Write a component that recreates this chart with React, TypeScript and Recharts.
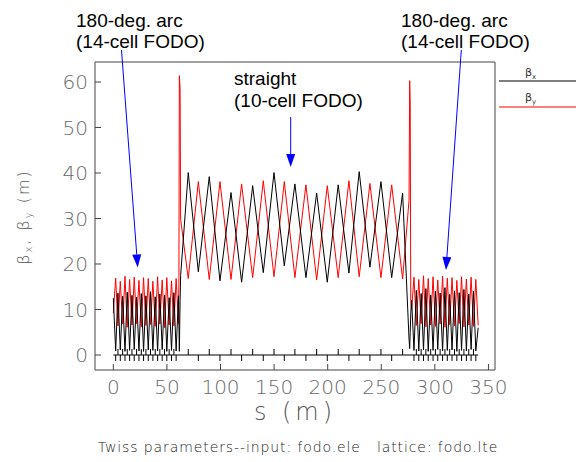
import React from "react";
import { ComposedChart, Line, Scatter, XAxis, YAxis, Legend } from "recharts";

// first 180-deg arc (14 FODO cells) — extrema
const arc1S = [0, 2.2, 4.3, 6.5, 8.7, 10.9, 13.0, 15.2, 17.4, 19.5, 21.7, 23.9, 26.1, 28.2, 30.4, 32.6, 34.7, 36.9, 39.1, 41.3, 43.4, 45.6, 47.8, 49.9, 52.1, 54.3, 56.5, 58.6, 60.8];
const arc1Bx = [12.5, 0.9, 13.6, 1.1, 12.9, 0.8, 13.8, 1.0, 13.1, 1.2, 12.7, 0.9, 13.5, 0.8, 13.0, 1.1, 13.9, 1.0, 12.8, 0.9, 13.4, 1.2, 13.2, 0.8, 12.6, 1.0, 13.7, 0.9, 13.0];
const arc1By = [9.2, 16.9, 6.4, 16.2, 6.8, 17.3, 6.1, 16.6, 6.6, 17.1, 6.9, 16.4, 6.2, 17.0, 6.5, 16.8, 6.7, 16.2, 6.3, 17.2, 6.8, 16.5, 6.0, 17.0, 6.6, 16.3, 6.4, 16.8, 6.9];

// straight section (10-cell FODO) with the matching spikes at both ends
const strS = [61.2, 61.6, 62.3, 62.8, 69.9, 79.3, 89.5, 99.5, 109.8, 119.7, 130.0, 139.9, 149.9, 159.5, 169.4, 179.7, 189.7, 199.6, 209.8, 219.8, 229.4, 239.4, 249.7, 259.7, 269.9, 275.9, 276.5, 277.0, 277.5];
const strBx = [7.0, 0.8, 12.0, 17.5, 40.1, 18.3, 39.2, 16.3, 35.7, 16.0, 37.2, 18.1, 40.1, 19.6, 37.6, 17.0, 35.6, 16.0, 37.4, 18.0, 40.3, 19.3, 38.1, 17.0, 35.6, 3.5, 1.4, 5.0, 9.0];
const strBy = [17.0, 61.4, 58.6, 29.8, 16.8, 38.1, 16.6, 38.1, 16.6, 37.6, 17.0, 38.3, 17.2, 38.1, 17.0, 37.4, 16.5, 37.2, 17.0, 38.3, 17.2, 37.7, 17.0, 37.4, 16.7, 34.0, 60.3, 55.0, 12.0];

// second 180-deg arc
const arc2S = [278.3, 280.5, 282.7, 285.0, 287.2, 289.4, 291.6, 293.8, 296.1, 298.3, 300.5, 302.7, 304.9, 307.2, 309.4, 311.6, 313.8, 316.0, 318.3, 320.5, 322.7, 324.9, 327.1, 329.4, 331.6, 333.8, 336.0, 338.2, 340.4];
const arc2Bx = [12.0, 1.0, 14.2, 0.9, 13.5, 1.1, 14.6, 0.8, 13.2, 1.0, 14.0, 1.2, 13.6, 0.9, 14.8, 1.0, 13.3, 1.1, 14.1, 0.8, 13.7, 1.0, 14.4, 0.9, 13.4, 1.2, 14.0, 0.9, 6.0];
const arc2By = [10.0, 17.1, 6.5, 16.6, 6.9, 17.4, 6.2, 16.8, 6.6, 17.2, 6.3, 16.5, 6.8, 17.3, 6.1, 16.9, 6.7, 17.0, 6.4, 16.4, 6.9, 17.2, 6.2, 16.7, 6.6, 17.1, 6.3, 16.6, 6.5];

const xTicks = [0, 50, 100, 150, 200, 250, 300, 350];
const yTicks = [0, 10, 20, 30, 40, 50, 60];

type Pt = { s: number; v: number };
const join = (segs: [number[], number[]][]): Pt[] =>
  segs.flatMap(([ss, vv]) => ss.map((s, i) => ({ s, v: vv[i] })));

const bxData = join([[arc1S, arc1Bx], [strS, strBx], [arc2S, arc2Bx]]);
const byData = join([[arc1S, arc1By], [strS, strBy], [arc2S, arc2By]]);

// lattice profile: a quad at every beta extremum, QF up / QD down
const qS = [...arc1S.slice(1, -1), ...strS.slice(4, 25), ...arc2S.slice(1, -1)];
const qBx = [...arc1Bx.slice(1, -1), ...strBx.slice(4, 25), ...arc2Bx.slice(1, -1)];
const qBy = [...arc1By.slice(1, -1), ...strBy.slice(4, 25), ...arc2By.slice(1, -1)];
const quads = qS.map((s, i) => ({ s, v: 0, up: qBx[i] > qBy[i] }));
const baseline = [
  { s: arc1S[0], v: 0 },
  { s: arc2S[arc2S.length - 1], v: 0 },
];

const axisColor = "#444";
const tickFont = { fontFamily: "DejaVu Sans", fontSize: 20, fontWeight: 200, fill: "#6a6a6a" };

const QuadMark = (props: any) => {
  const { cx, cy, payload } = props;
  if (cx == null || cy == null) return null;
  return <line x1={cx} x2={cx} y1={cy} y2={payload.up ? cy - 6 : cy + 6} stroke="#000" strokeWidth={1} />;
};

const LegendBox = () => (
  <svg width={77} height={55} style={{ display: "block" }}>
    <text x={26} y={16} fontFamily="DejaVu Sans" fontSize={11} fill="#333">
      β<tspan dy={3} fontSize={7}>x</tspan>
    </text>
    <line x1={0} x2={77} y1={21} y2={21} stroke="#000" />
    <text x={26} y={41} fontFamily="DejaVu Sans" fontSize={11} fill="#333">
      β<tspan dy={3} fontSize={7}>y</tspan>
    </text>
    <line x1={0} x2={77} y1={47} y2={47} stroke="#ff0000" />
  </svg>
);

const Arrow = ({ x1, y1, x2, y2 }: { x1: number; y1: number; x2: number; y2: number }) => {
  const dx = x2 - x1;
  const dy = y2 - y1;
  const len = Math.hypot(dx, dy);
  const ux = dx / len;
  const uy = dy / len;
  const bx = x2 - ux * 13;
  const by = y2 - uy * 13;
  const pts = `${x2},${y2} ${bx - uy * 4.5},${by + ux * 4.5} ${bx + uy * 4.5},${by - ux * 4.5}`;
  return (
    <g>
      <line x1={x1} y1={y1} x2={bx} y2={by} stroke="#0000ff" strokeWidth={1} />
      <polygon points={pts} fill="#0000ff" />
    </g>
  );
};

const note = { fontFamily: "Liberation Sans", fontSize: 19, fill: "#000" };

export default function App() {
  return (
    <div style={{ position: "absolute", left: 0, top: 0, width: 576, height: 462, background: "#fff" }}>
      <ComposedChart width={576} height={462} margin={{ top: 52, right: 71, bottom: 62, left: 35 }}>
        <XAxis
          xAxisId="b"
          type="number"
          dataKey="s"
          domain={[-17.1, 356.1]}
          allowDataOverflow
          ticks={xTicks}
          interval={0}
          height={30}
          tickSize={-6}
          tickMargin={16}
          stroke={axisColor}
          tick={tickFont}
        />
        <XAxis
          xAxisId="t"
          orientation="top"
          type="number"
          dataKey="s"
          domain={[-17.1, 356.1]}
          allowDataOverflow
          ticks={xTicks}
          interval={0}
          height={10}
          tickSize={-6}
          tick={false}
          stroke={axisColor}
        />
        <YAxis
          yAxisId="l"
          type="number"
          dataKey="v"
          domain={[-3.3, 64.4]}
          allowDataOverflow
          ticks={yTicks}
          interval={0}
          width={60}
          tickSize={-6}
          tickMargin={13}
          stroke={axisColor}
          tick={tickFont}
        />
        <YAxis
          yAxisId="r"
          orientation="right"
          type="number"
          dataKey="v"
          domain={[-3.3, 64.4]}
          allowDataOverflow
          ticks={yTicks}
          interval={0}
          width={10}
          tickSize={-6}
          tick={false}
          stroke={axisColor}
        />
        <Line
          xAxisId="t"
          yAxisId="r"
          data={baseline}
          dataKey="v"
          stroke="#000"
          strokeWidth={1}
          dot={false}
          legendType="none"
          isAnimationActive={false}
        />
        <Scatter
          xAxisId="b"
          yAxisId="l"
          data={quads}
          shape={QuadMark}
          legendType="none"
          isAnimationActive={false}
        />
        <Line
          xAxisId="b"
          yAxisId="l"
          data={byData}
          dataKey="v"
          name="βy"
          type="linear"
          stroke="#ff0000"
          strokeWidth={1}
          dot={false}
          isAnimationActive={false}
        />
        <Line
          xAxisId="b"
          yAxisId="l"
          data={bxData}
          dataKey="v"
          name="βx"
          type="linear"
          stroke="#000000"
          strokeWidth={1}
          dot={false}
          isAnimationActive={false}
        />
        <Legend
          layout="vertical"
          align="center"
          verticalAlign="middle"
          wrapperStyle={{ left: 499, top: 60, width: 77, height: 55 }}
          content={LegendBox}
        />
      </ComposedChart>
      <svg
        width={576}
        height={462}
        style={{ position: "absolute", left: 0, top: 0, pointerEvents: "none" }}
      >
        <text x={76} y={27} {...note}>180-deg. arc</text>
        <text x={76} y={48} {...note}>(14-cell FODO)</text>
        <text x={401} y={27} {...note}>180-deg. arc</text>
        <text x={401} y={48} {...note}>(14-cell FODO)</text>
        <text x={234} y={85} {...note}>straight</text>
        <text x={234} y={107} {...note}>(10-cell FODO)</text>
        <Arrow x1={121.5} y1={50} x2={137.7} y2={267.5} />
        <Arrow x1={290.7} y1={117} x2={290.7} y2={167} />
        <Arrow x1={461.3} y1={50} x2={446} y2={270} />
        <text
          transform="translate(29,217) rotate(-90)"
          textAnchor="middle"
          fontFamily="DejaVu Sans"
          fontWeight={200}
          fontSize={16}
          letterSpacing={2}
          fill="#555"
        >
          β<tspan dy={3} fontSize={10}>x</tspan>
          <tspan dy={-3}>, β</tspan>
          <tspan dy={3} fontSize={10}>y</tspan>
          <tspan dy={-3}> (m)</tspan>
        </text>
        <text
          x={295}
          y={420}
          textAnchor="middle"
          fontFamily="DejaVu Sans"
          fontWeight={200}
          fontSize={24}
          letterSpacing={4}
          fill="#555"
          style={{ whiteSpace: "pre" }}
        >
          s (m)
        </text>
        <text
          x={298}
          y={452}
          textAnchor="middle"
          fontFamily="DejaVu Sans"
          fontWeight={200}
          fontSize={14}
          letterSpacing={0.9}
          fill="#222"
          style={{ whiteSpace: "pre" }}
        >
          Twiss parameters--input: fodo.ele   lattice: fodo.lte
        </text>
      </svg>
    </div>
  );
}
